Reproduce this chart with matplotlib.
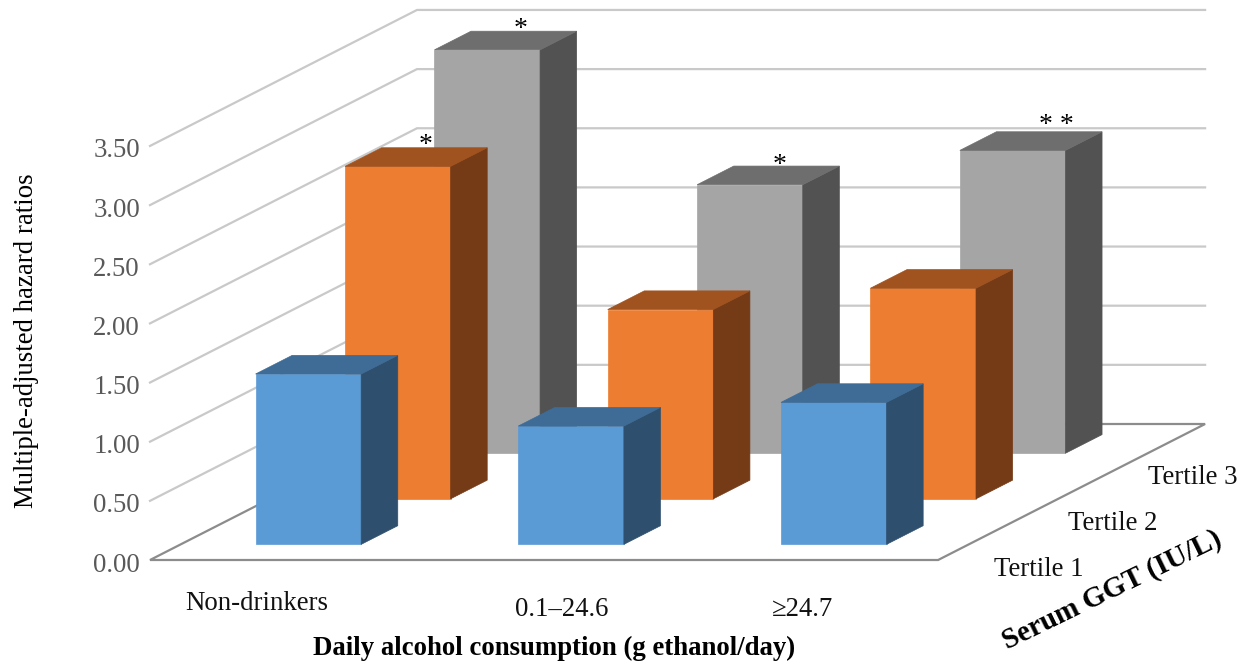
import matplotlib
matplotlib.use("Agg")
import matplotlib.pyplot as plt
from matplotlib.patches import Polygon

plt.rcParams['font.family'] = ['Liberation Serif', 'DejaVu Serif']

categories = ["Non-drinkers", "0.1\u201324.6", "\u226524.7"]
series_names = ["Tertile 1", "Tertile 2", "Tertile 3"]
tertile1 = [1.44, 1.00, 1.20]
tertile2 = [2.81, 1.60, 1.78]
tertile3 = [3.41, 2.27, 2.56]
y_ticks = [0.0, 0.5, 1.0, 1.5, 2.0, 2.5, 3.0, 3.5]
y_title = "Multiple-adjusted hazard ratios"
x_title = "Daily alcohol consumption (g ethanol/day)"
z_title = "Serum GGT (IU/L)"
star_marks = ["*", "*", "*", "* *"]

W, H = 1249, 664
fig = plt.figure(figsize=(W / 100, H / 100), dpi=100)
ax = fig.add_axes([0, 0, 1, 1])
ax.set_xlim(0, W)
ax.set_ylim(H, 0)
ax.axis("off")

# oblique projection of the chart's 3-D box onto the page
X0, Y0 = 150, 560
CAT_W = 262.7
DX, DY = 267, -136
UNIT = 118.3


def proj(c, v, d):
    """c: category position, v: value, d: depth 0..1"""
    return (X0 + c * CAT_W + d * DX, Y0 - v * UNIT + d * DY)


GRID = "#c9c9c9"
FLOOR = "#8c8c8c"
n = len(categories)

# walls
for v in y_ticks[1:]:
    xs, ys = zip(proj(0, v, 0), proj(0, v, 1), proj(n, v, 1))
    ax.plot(xs, ys, color=GRID, lw=1.6, solid_joinstyle="miter", zorder=1)
# floor
xs, ys = zip(proj(0, 0, 1), proj(0, 0, 0), proj(n, 0, 0), proj(n, 0, 1), proj(0, 0, 1))
ax.plot(xs, ys, color=FLOOR, lw=1.6, solid_joinstyle="miter", zorder=1)

BAR_L, BAR_W = 0.285, 0.402
DEPTH_W = 0.137
depths = [0.115, 0.45, 0.785]
styles = [("#5B9BD5", "#3E6C96", "#2E4F6E"),
          ("#ED7D31", "#A0521F", "#753A16"),
          ("#A5A5A5", "#6E6E6E", "#525252")]
values = [tertile1, tertile2, tertile3]

z = 2
for s in (2, 1, 0):
    front, top, side = styles[s]
    d0, d1 = depths[s], depths[s] + DEPTH_W
    for c, v in enumerate(values[s]):
        l, r = c + BAR_L, c + BAR_L + BAR_W
        ax.add_patch(Polygon([proj(l, 0, d0), proj(r, 0, d0), proj(r, v, d0), proj(l, v, d0)],
                             fc=front, ec=front, lw=0.5, zorder=z))
        ax.add_patch(Polygon([proj(r, 0, d0), proj(r, 0, d1), proj(r, v, d1), proj(r, v, d0)],
                             fc=side, ec=side, lw=0.5, zorder=z))
        ax.add_patch(Polygon([proj(l, v, d0), proj(r, v, d0), proj(r, v, d1), proj(l, v, d1)],
                             fc=top, ec=top, lw=0.5, zorder=z))
    z += 1

FS = 19.3
# y tick labels
for v in y_ticks:
    x, y = proj(0, v, 0)
    ax.text(x - 10, y + 5, f"{v:.2f}", ha="right", va="center", fontsize=FS, color="#595959")

# category labels
cat_pos = [(257, 603), (562, 609), (803, 609)]
for name, (x, y) in zip(categories, cat_pos):
    ax.text(x, y, name, ha="center", va="center", fontsize=FS, color="#111111")

# series labels
ser_pos = [(1039, 569), (1113, 523), (1193, 478)]
for name, (x, y) in zip(series_names, ser_pos):
    ax.text(x, y, name, ha="center", va="center", fontsize=FS, color="#111111")

# titles
ax.text(554, 648, x_title, ha="center", va="center", fontsize=FS, fontweight="bold", color="black")
ax.text(27, 341, y_title, ha="center", va="center", rotation=90, fontsize=FS, color="black")
ax.text(1112, 590, z_title, ha="center", va="center", rotation=26, rotation_mode="anchor",
        fontsize=21, fontweight="bold", color="black")

# significance marks
star_pos = [(521, 29), (426, 146), (780, 165), (1056, 125)]
for mark, (x, y) in zip(star_marks, star_pos):
    ax.text(x, y, mark, ha="center", va="center", fontsize=20, color="black", zorder=10)

fig.savefig("out.png", dpi=100, facecolor="white")
